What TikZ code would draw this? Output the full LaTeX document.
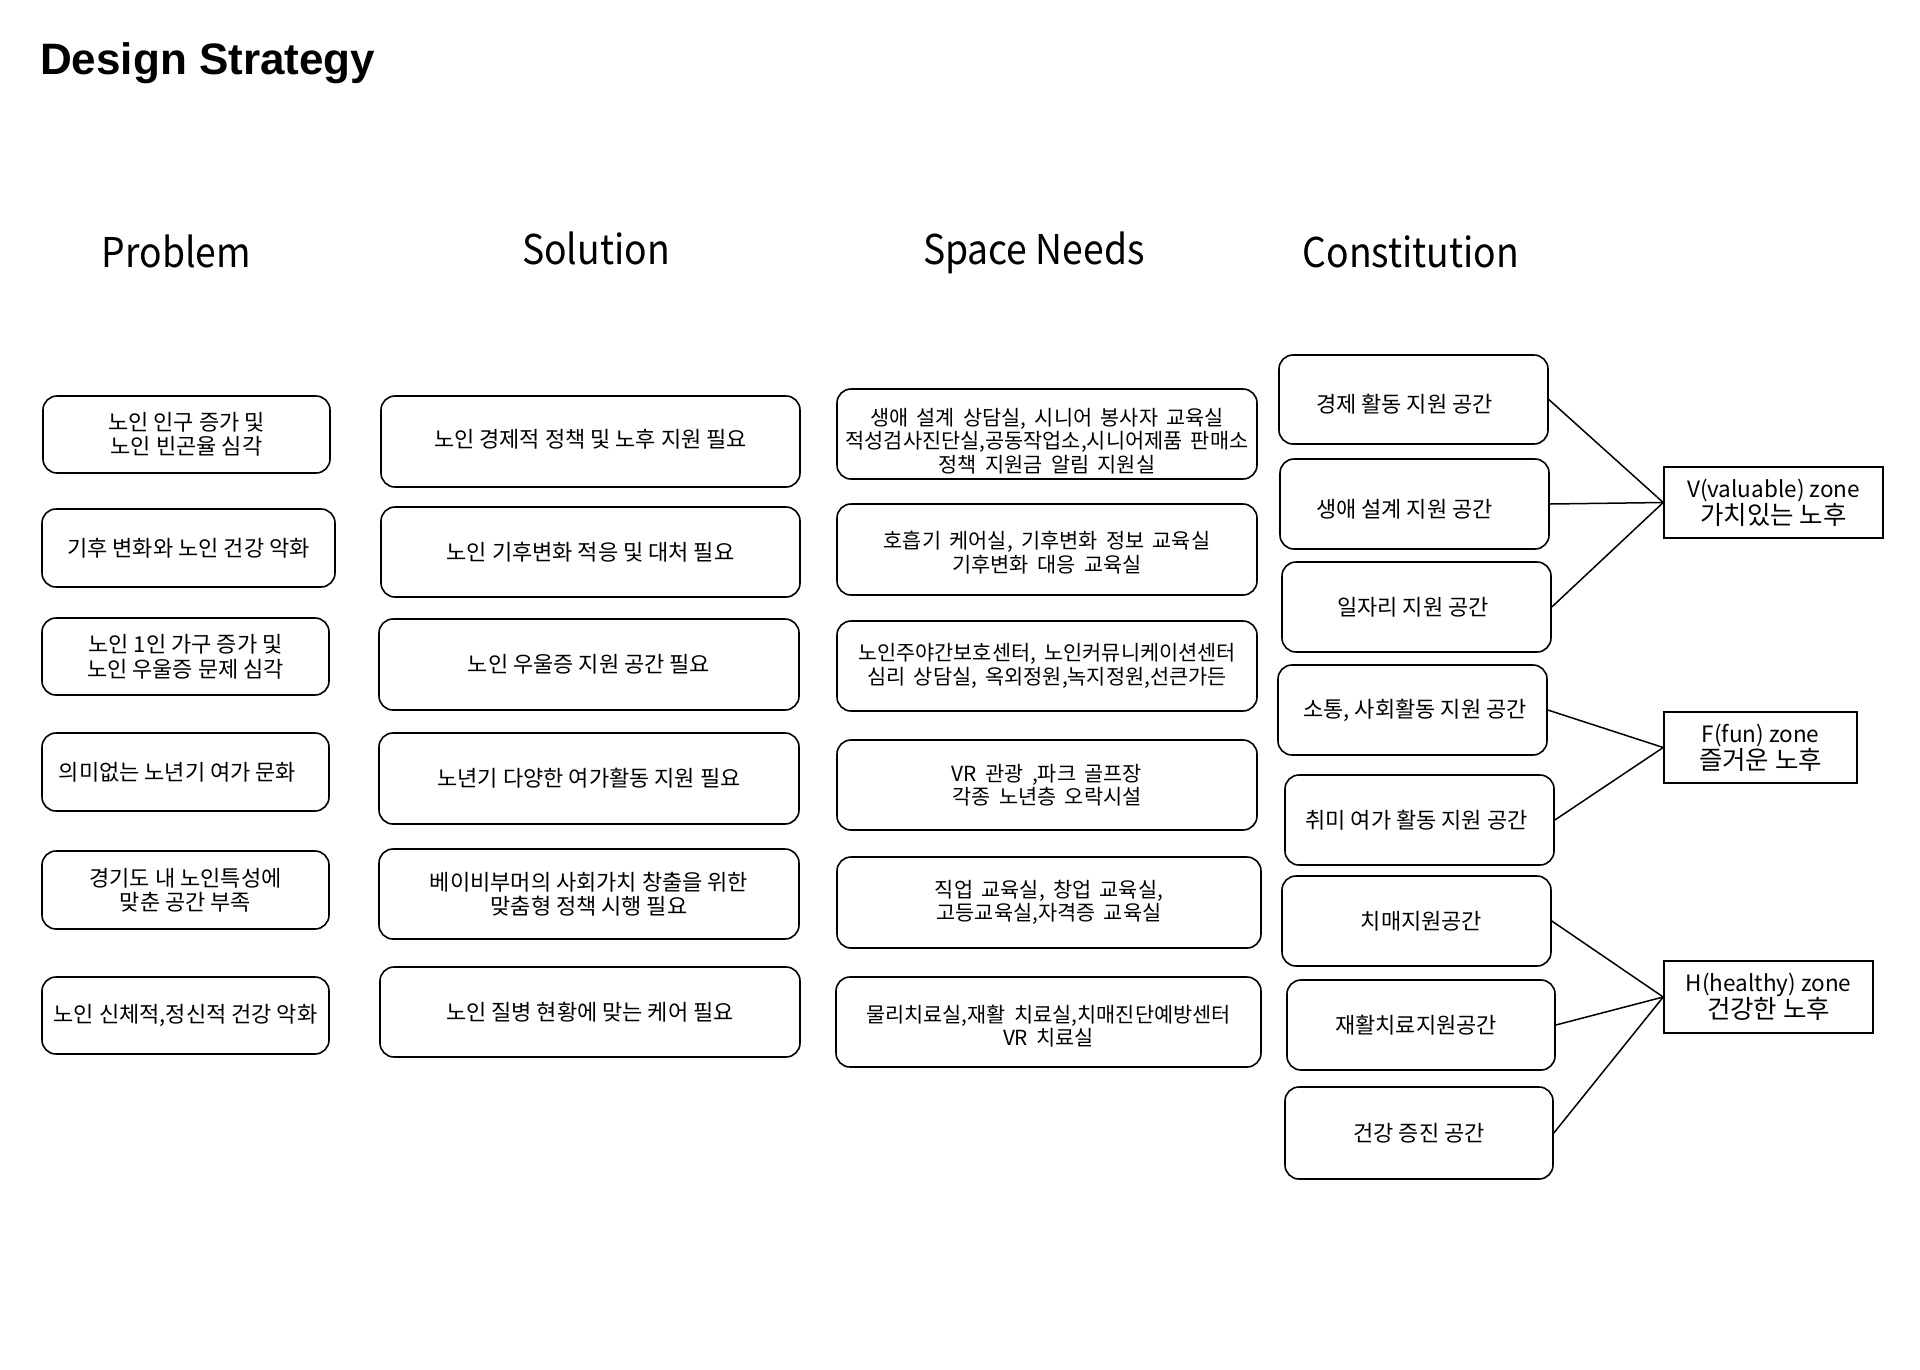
\documentclass[tikz,border=0pt]{standalone}
\usepackage{fontspec}
\setmainfont{Noto Sans CJK KR}
\newfontfamily\titlefont{Liberation Sans}
\newfontfamily\snfont{Noto Sans CJK KR}[WordSpace=1.8]
\newfontfamily\hdrfont{Noto Sans CJK KR}[FakeStretch=0.91]
\newcommand\zk[1]{{\fontsize{25.5}{27}\selectfont #1}}
\begin{document}
\begin{tikzpicture}[x=1pt,y=-1pt,
  boxfont/.style={font=\fontsize{22}{24.5}\selectfont},
  snfont/.style={font=\snfont\fontsize{20.8}{23.5}\selectfont},
  box/.style={draw, line width=1.6pt, rounded corners=14pt, align=center, inner sep=0pt, boxfont},
  snbox/.style={box, snfont},
  lab/.style={align=center, inner sep=0pt, boxfont},
  snlab/.style={align=center, inner sep=0pt, snfont},
  zone/.style={draw, line width=1.6pt, align=center, inner sep=0pt,
    font=\fontsize{22.5}{27}\selectfont},
  sz/.style 2 args={minimum width=#1, minimum height=#2},
  hdr/.style={anchor=base, inner sep=0pt, font=\hdrfont\fontsize{41}{41}\selectfont},
  link/.style={line width=1.5pt}]
\fill[white] (0,0) rectangle (1920,1369);
\useasboundingbox (0,0) rectangle (1920,1369);

% title and headers
\node[anchor=base west, inner sep=0pt, font=\titlefont\bfseries\fontsize{44}{44}\selectfont] (title) at (40,74) {Design Strategy};
\node[hdr] (hp) at (176.5,267) {Problem};
\node[hdr] (hs) at (596,264) {Solution};
\node[hdr] (hn) at (1034,264) {Space Needs};
\node[hdr] (hc) at (1411,267) {Constitution};

% Problem
\node[box, sz={287pt}{77pt}] (p1) at (186.5,434.5) {노인 인구 증가 및\\노인 빈곤율 심각};
\node[box, sz={293pt}{78pt}] (p2) at (188.5,548) {기후 변화와 노인 건강 악화};
\node[box, sz={287pt}{77pt}] (p3) at (185.5,656.5) {노인 1인 가구 증가 및\\노인 우울증 문제 심각};
\node[box, sz={287pt}{78pt}, label={[lab, xshift=-8pt]center:의미없는 노년기 여가 문화}] (p4) at (185.5,772) {};
\node[box, sz={287pt}{78pt}] (p5) at (185.5,890) {경기도 내 노인특성에\\맞춘 공간 부족};
\node[box, sz={287pt}{77pt}] (p6) at (185.5,1015.5) {노인 신체적,정신적 건강 악화};

% Solution
\node[box, sz={419pt}{91pt}, label={[lab, yshift=2.5pt]center:노인 경제적 정책 및 노후 지원 필요}] (s1) at (590.5,441.5) {};
\node[box, sz={419pt}{90pt}] (s2) at (590.5,552) {노인 기후변화 적응 및 대처 필요};
\node[box, sz={420pt}{91pt}] (s3) at (589,664.5) {노인 우울증 지원 공간 필요};
\node[box, sz={420pt}{91pt}] (s4) at (589,778.5) {노년기 다양한 여가활동 지원 필요};
\node[box, sz={420pt}{90pt}] (s5) at (589,894) {베이비부머의 사회가치 창출을 위한\\맞춤형 정책 시행 필요};
\node[box, sz={420pt}{90pt}] (s6) at (590,1012) {노인 질병 현황에 맞는 케어 필요};

% Space needs
\node[snbox, sz={420pt}{90pt}, label={[snlab, yshift=-7pt]center:{생애 설계 상담실, 시니어 봉사자 교육실\\적성검사진단실,공동작업소,시니어제품 판매소\\정책 지원금 알림 지원실}}] (n1) at (1047,434) {};
\node[snbox, sz={420pt}{91pt}, label={[snlab, yshift=-3pt]center:{호흡기 케어실, 기후변화 정보 교육실\\기후변화 대응 교육실}}] (n2) at (1047,549.5) {};
\node[snbox, sz={420pt}{90pt}] (n3) at (1047,666) {노인주야간보호센터, 노인커뮤니케이션센터\\심리 상담실, 옥외정원,녹지정원,선큰가든};
\node[snbox, sz={420pt}{90pt}] (n4) at (1047,785) {VR 관광 ,파크 골프장\\각종 노년층 오락시설};
\node[snbox, sz={424pt}{91pt}] (n5) at (1049,902.5) {직업 교육실, 창업 교육실,\\고등교육실,자격증 교육실};
\node[snbox, sz={425pt}{90pt}, label={[snlab, yshift=-4pt]center:{물리치료실,재활 치료실,치매진단예방센터\\VR 치료실}}] (n6) at (1048.5,1022) {};

% Constitution
\node[box, sz={269pt}{89pt}, label={[lab, xshift=-9pt, yshift=-5pt]center:경제 활동 지원 공간}] (c1) at (1413.5,399.5) {};
\node[box, sz={269pt}{90pt}, label={[lab, xshift=-10pt, yshift=-5pt]center:생애 설계 지원 공간}] (c2) at (1414.5,504) {};
\node[box, sz={269pt}{90pt}, label={[lab, xshift=-3.5pt]center:일자리 지원 공간}] (c3) at (1416.5,607) {};
\node[box, sz={269pt}{90pt}, label={[lab, xshift=2.5pt]center:{소통, 사회활동 지원 공간}}] (c4) at (1412.5,710) {};
\node[box, sz={269pt}{90pt}, label={[lab, xshift=-3pt]center:취미 여가 활동 지원 공간}] (c5) at (1419.5,820) {};
\node[box, sz={269pt}{90pt}, label={[lab, xshift=5pt]center:치매지원공간}] (c6) at (1416.5,921) {};
\node[box, sz={268pt}{90pt}, label={[lab, xshift=-5pt]center:재활치료지원공간}] (c7) at (1421,1025) {};
\node[box, sz={268pt}{92pt}] (c8) at (1419,1133) {건강 증진 공간};

% Zones
\node[zone, sz={219pt}{71pt}] (zv) at (1773.5,502.5) {V(valuable) zone\\\zk{가치있는 노후}};
\node[zone, sz={193pt}{71pt}] (zf) at (1760.5,747.5) {F(fun) zone\\\zk{즐거운 노후}};
\node[zone, sz={209pt}{72pt}] (zh) at (1768.5,997) {H(healthy) zone\\\zk{건강한 노후}};

% connectors
\draw[link] (c1.east) -- (zv.west);
\draw[link] (c2.east) -- (zv.west);
\draw[link] (c3.east) -- (zv.west);
\draw[link] (c4.east) -- (zf.west);
\draw[link] (c5.east) -- (zf.west);
\draw[link] (c6.east) -- (zh.west);
\draw[link] (c7.east) -- (zh.west);
\draw[link] (c8.east) -- (zh.west);
\end{tikzpicture}
\end{document}
